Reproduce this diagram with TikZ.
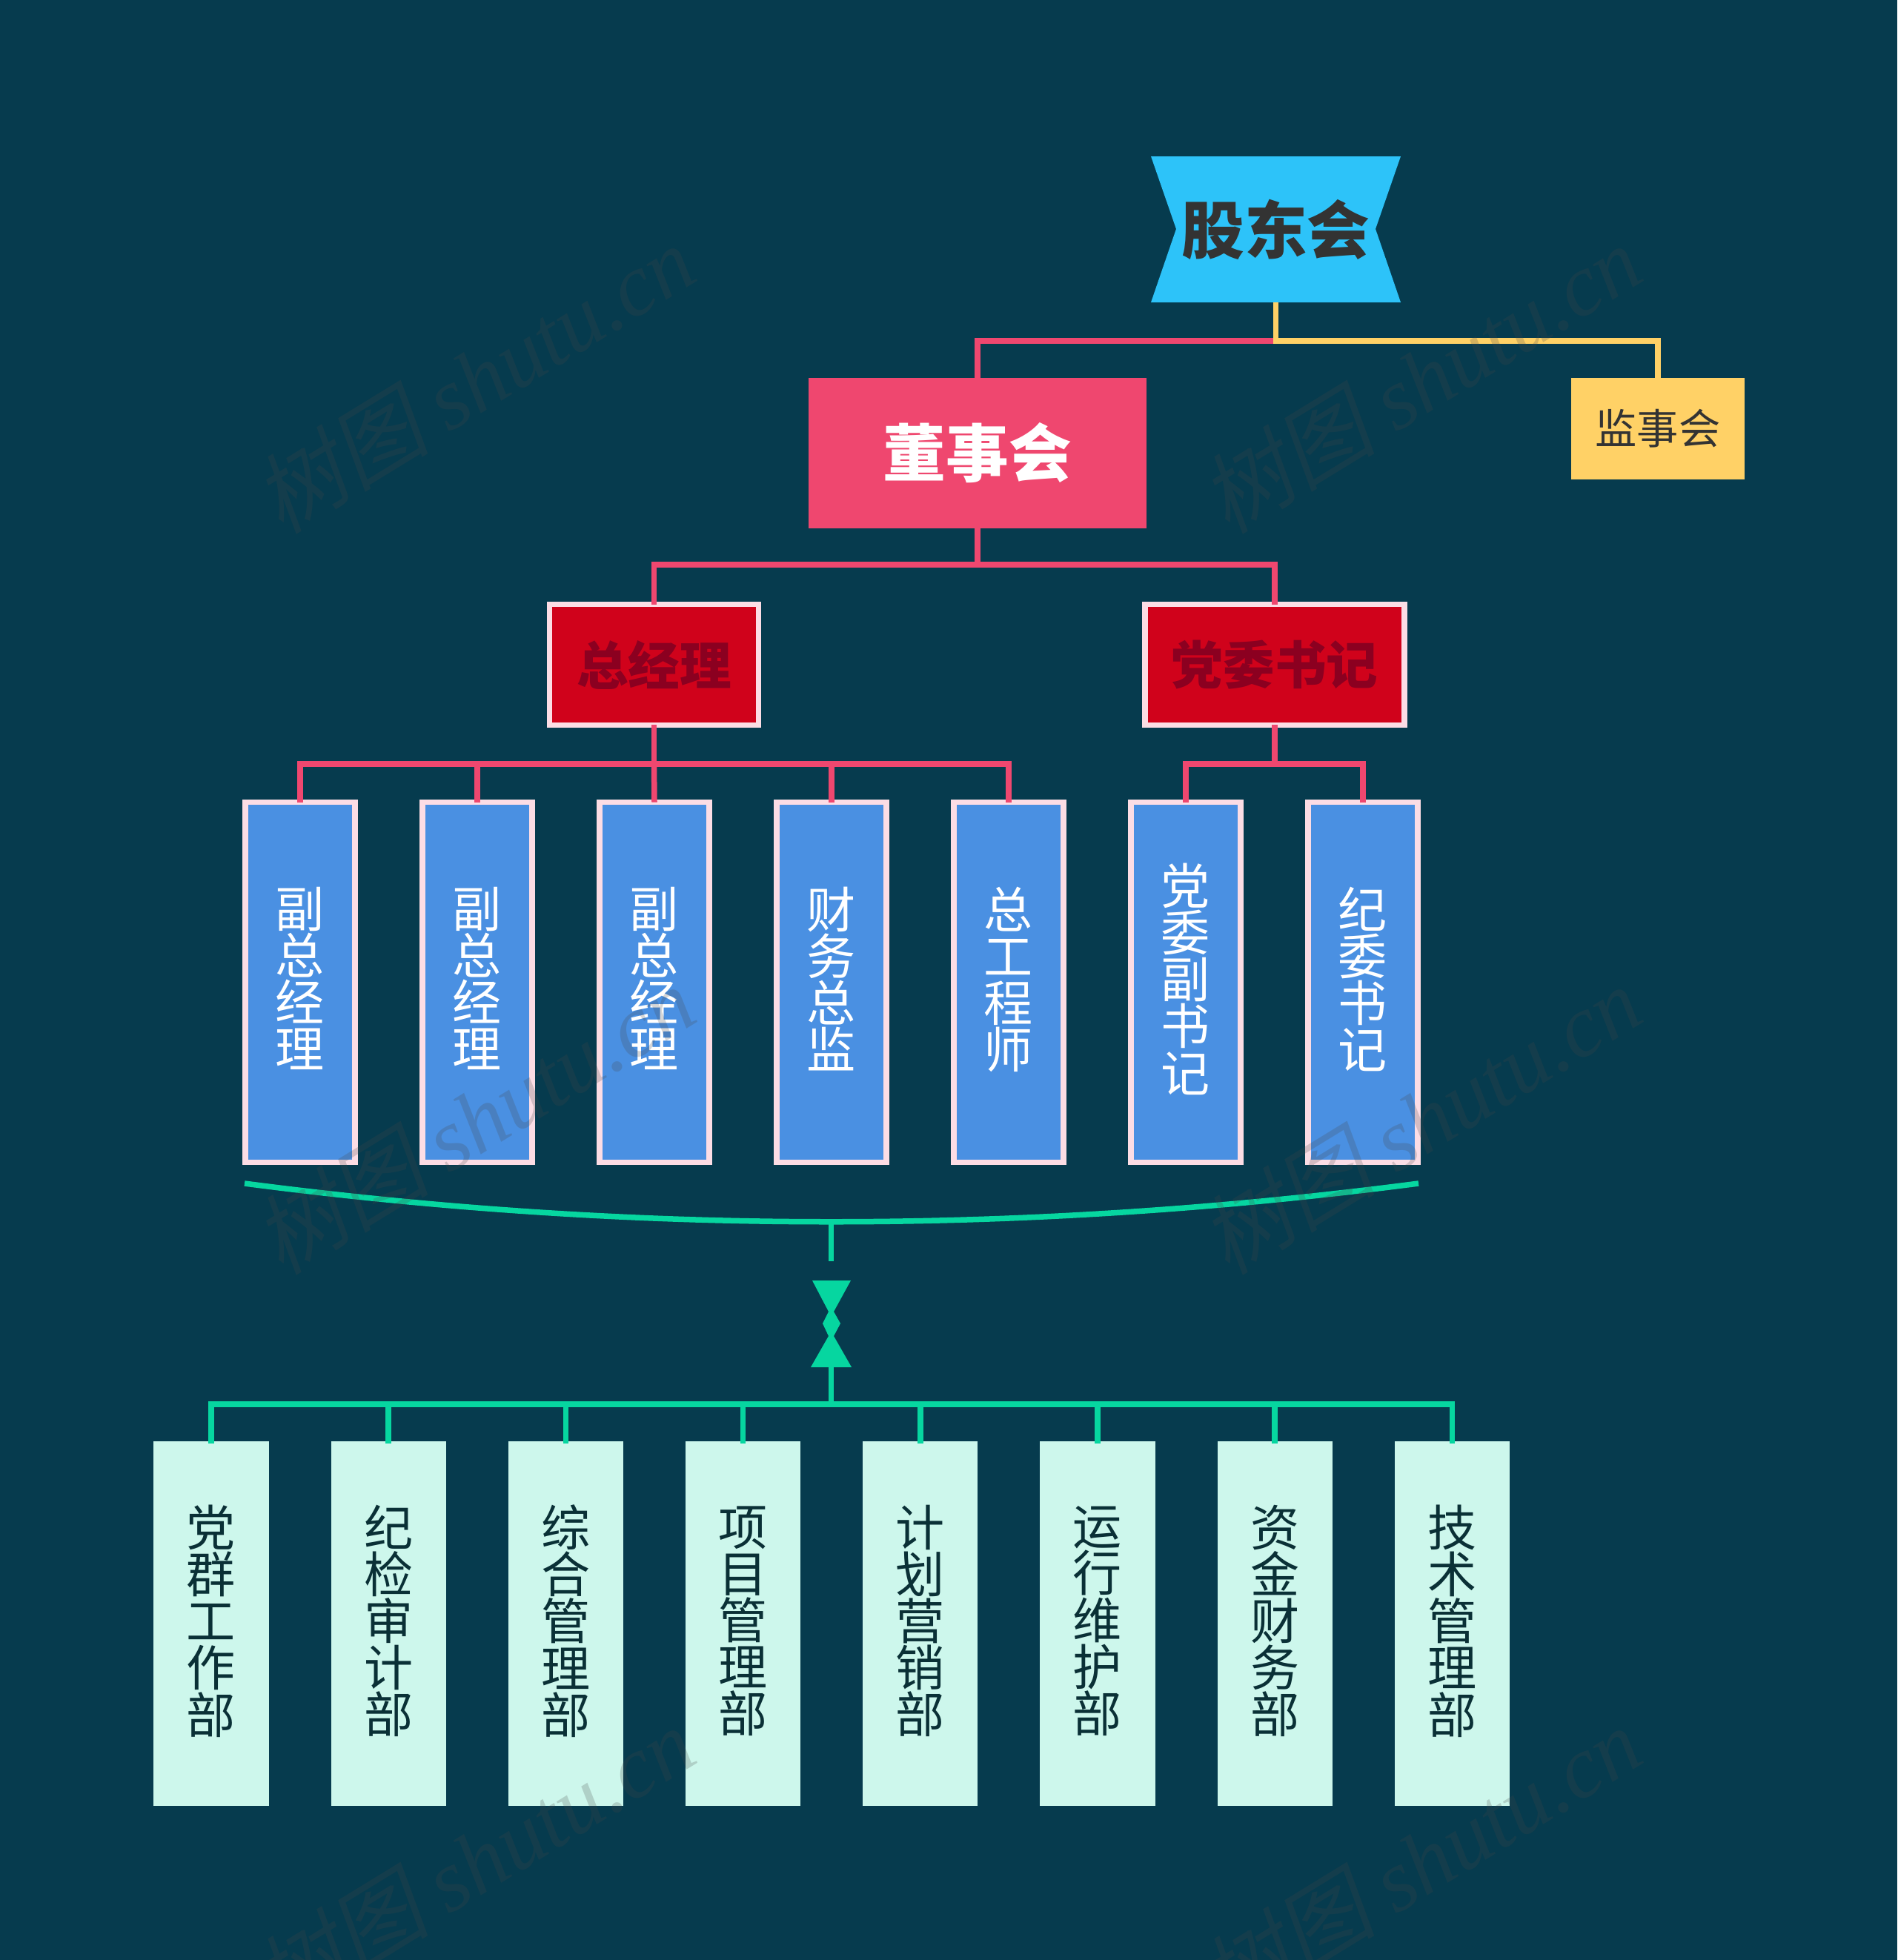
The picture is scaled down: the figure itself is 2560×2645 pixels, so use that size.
\documentclass[tikz,border=0pt]{standalone}
\usepackage{fontspec}
\setmainfont{Noto Sans CJK SC}
\newfontfamily\wmlatin{Liberation Serif}[Ligatures=TeX]
\newfontfamily\wmcjk{Noto Sans CJK SC}[FakeSlant=0.2]
\definecolor{bgc}{HTML}{063B4E}
\definecolor{pinkc}{HTML}{EF476F}
\definecolor{yellowc}{HTML}{FFD166}
\definecolor{greenc}{HTML}{06D6A0}
\definecolor{skyc}{HTML}{2DC3F9}
\definecolor{redc}{HTML}{D0021B}
\definecolor{redtxt}{HTML}{8B0020}
\definecolor{bluec}{HTML}{4A90E2}
\definecolor{rimc}{HTML}{FCDDE5}
\definecolor{deptc}{HTML}{CDF7EC}
\definecolor{darktxt}{HTML}{333333}
\definecolor{depttxt}{HTML}{0A3036}
\definecolor{wmc}{HTML}{474747}
\tikzset{
	boss/.style={outer sep=0,inner sep=0,font=\fontsize{24.1}{24}\selectfont\bfseries},
	chief/.style={boss,draw=rimc,line width=0.075cm,fill=redc,text=redtxt,minimum height=1.625cm,font=\fontsize{19.8}{20}\selectfont\bfseries},
	post/.style={outer sep=0,inner sep=0,draw=rimc,line width=0.075cm,fill=bluec,text=white,minimum width=1.475cm,minimum height=4.855cm,align=center,font=\fontsize{18.8}{17.95}\selectfont,execute at end node={\rule[-0.13cm]{0pt}{0pt}}},
	dept/.style={outer sep=0,inner sep=0,fill=deptc,text=depttxt,minimum width=1.55cm,minimum height=4.92cm,align=center,font=\fontsize{18.8}{17.95}\selectfont,execute at end node={\rule[-0.12cm]{0pt}{0pt}}},
	pinkline/.style={draw=pinkc,line width=0.075cm},
	yellowline/.style={draw=yellowc,line width=0.075cm},
	greenline/.style={draw=greenc,line width=0.075cm},
	wmark/.style={outer sep=0,inner sep=0,text=wmc,text opacity=0.22,rotate=31.5,font=\fontsize{33.8}{34}\selectfont},
}
\begin{document}
\begin{tikzpicture}[x=0.01cm,y=-0.01cm]
		\fill[bgc] (0,0) rectangle (2560,2645);
		\useasboundingbox (0,0) rectangle (2560,2645);
		\fill[skyc] (1553,211) -- (1890,211) -- (1856,309) -- (1890,408) -- (1553,408) -- (1587,309) -- cycle;
		\node[boss,text=darktxt,minimum width=3.36cm,minimum height=1.97cm](H) at (1721.5,309.5) {股东会};
		\node[boss,fill=pinkc,text=white,minimum width=4.55cm,minimum height=2.03cm](B) at (1319,611.5) {董事会};
		\node[outer sep=0,inner sep=0,fill=yellowc,text=darktxt,minimum width=2.33cm,minimum height=1.37cm,font=\fontsize{16}{16}\selectfont](S) at (2237,578.5) {监事会};
		\node[chief,minimum width=2.815cm](G) at (882.5,897) {总经理};
		\node[chief,minimum width=3.5cm](P) at (1720,897) {党委书记};
		\node[post](V1) at (405,1325.5) {副\\总\\经\\理};
		\node[post](V2) at (644,1325.5) {副\\总\\经\\理};
		\node[post](V3) at (883,1325.5) {副\\总\\经\\理};
		\node[post](V4) at (1122,1325.5) {财\\务\\总\\监};
		\node[post](V5) at (1361,1325.5) {总\\工\\程\\师};
		\node[post](V6) at (1600,1325.5) {党\\委\\副\\书\\记};
		\node[post](V7) at (1839,1325.5) {纪\\委\\书\\记};
		\node[dept](D1) at (285,2191) {党\\群\\工\\作\\部};
		\node[dept](D2) at (524.2,2191) {纪\\检\\审\\计\\部};
		\node[dept](D3) at (763.4,2191) {综\\合\\管\\理\\部};
		\node[dept](D4) at (1002.6,2191) {项\\目\\管\\理\\部};
		\node[dept](D5) at (1241.8,2191) {计\\划\\营\\销\\部};
		\node[dept](D6) at (1481,2191) {运\\行\\维\\护\\部};
		\node[dept](D7) at (1720.2,2191) {资\\金\\财\\务\\部};
		\node[dept](D8) at (1959.4,2191) {技\\术\\管\\理\\部};
		% joints
		\coordinate (J1) at (1721.5,460);
		\coordinate (J2) at (1319,762);
		\coordinate (J3) at (882.5,1031);
		\coordinate (J4) at (1720,1031);
		\coordinate (J5) at (1121.5,1895);
		\coordinate (Bl) at (330,1597);
		\coordinate (Br) at (1914,1597);
		\coordinate (Bm) at (1121.5,1649);
		\coordinate (Ta) at (1121.5,1702);
		\coordinate (Tb) at (1121.5,1845);
		\draw[pinkline] (J1) -| (B.north);
		\draw[yellowline] (H.south) -- (J1) -| (S.north);
		\draw[pinkline] (B.south) -- (J2) -| (G.north);
		\draw[pinkline] (J2) -| (P.north);
		\draw[pinkline] (G.south) -- (J3) -| (V1.north);
		\draw[pinkline] (J3) -| (V2.north);
		\draw[pinkline] (J3) -- (V3.north);
		\draw[pinkline] (J3) -| (V4.north);
		\draw[pinkline] (J3) -| (V5.north);
		\draw[pinkline] (P.south) -- (J4) -| (V6.north);
		\draw[pinkline] (J4) -| (V7.north);
		\draw[greenline] (Bl) .. controls (858,1666) and (1385,1666) .. (Br);
		\draw[greenline] (Bm) -- (Ta);
		\fill[greenc] (1096,1728) -- (1148,1728) -- (1125,1770) -- (1134,1786) -- (1125,1803) -- (1149,1845) -- (1094,1845) -- (1118,1803) -- (1110,1786) -- (1118,1770) -- cycle;
		\draw[greenline] (Tb) -- (J5);
		\draw[greenline,shorten >=-0.03cm] (J5) -| (D1.north);
		\draw[greenline,shorten >=-0.03cm] (J5) -| (D2.north);
		\draw[greenline,shorten >=-0.03cm] (J5) -| (D3.north);
		\draw[greenline,shorten >=-0.03cm] (J5) -| (D4.north);
		\draw[greenline,shorten >=-0.03cm] (J5) -| (D5.north);
		\draw[greenline,shorten >=-0.03cm] (J5) -| (D6.north);
		\draw[greenline,shorten >=-0.03cm] (J5) -| (D7.north);
		\draw[greenline,shorten >=-0.03cm] (J5) -| (D8.north);
		% faint site marks
		\node[wmark](W1) at (640,511) {\wmcjk 树图 \wmlatin\itshape shutu.cn};
		\node[wmark](W2) at (1917,511) {\wmcjk 树图 \wmlatin\itshape shutu.cn};
		\node[wmark](W3) at (640,1511) {\wmcjk 树图 \wmlatin\itshape shutu.cn};
		\node[wmark](W4) at (1917,1511) {\wmcjk 树图 \wmlatin\itshape shutu.cn};
		\node[wmark](W5) at (640,2511) {\wmcjk 树图 \wmlatin\itshape shutu.cn};
		\node[wmark](W6) at (1917,2511) {\wmcjk 树图 \wmlatin\itshape shutu.cn};
		\end{tikzpicture}
\end{document}
